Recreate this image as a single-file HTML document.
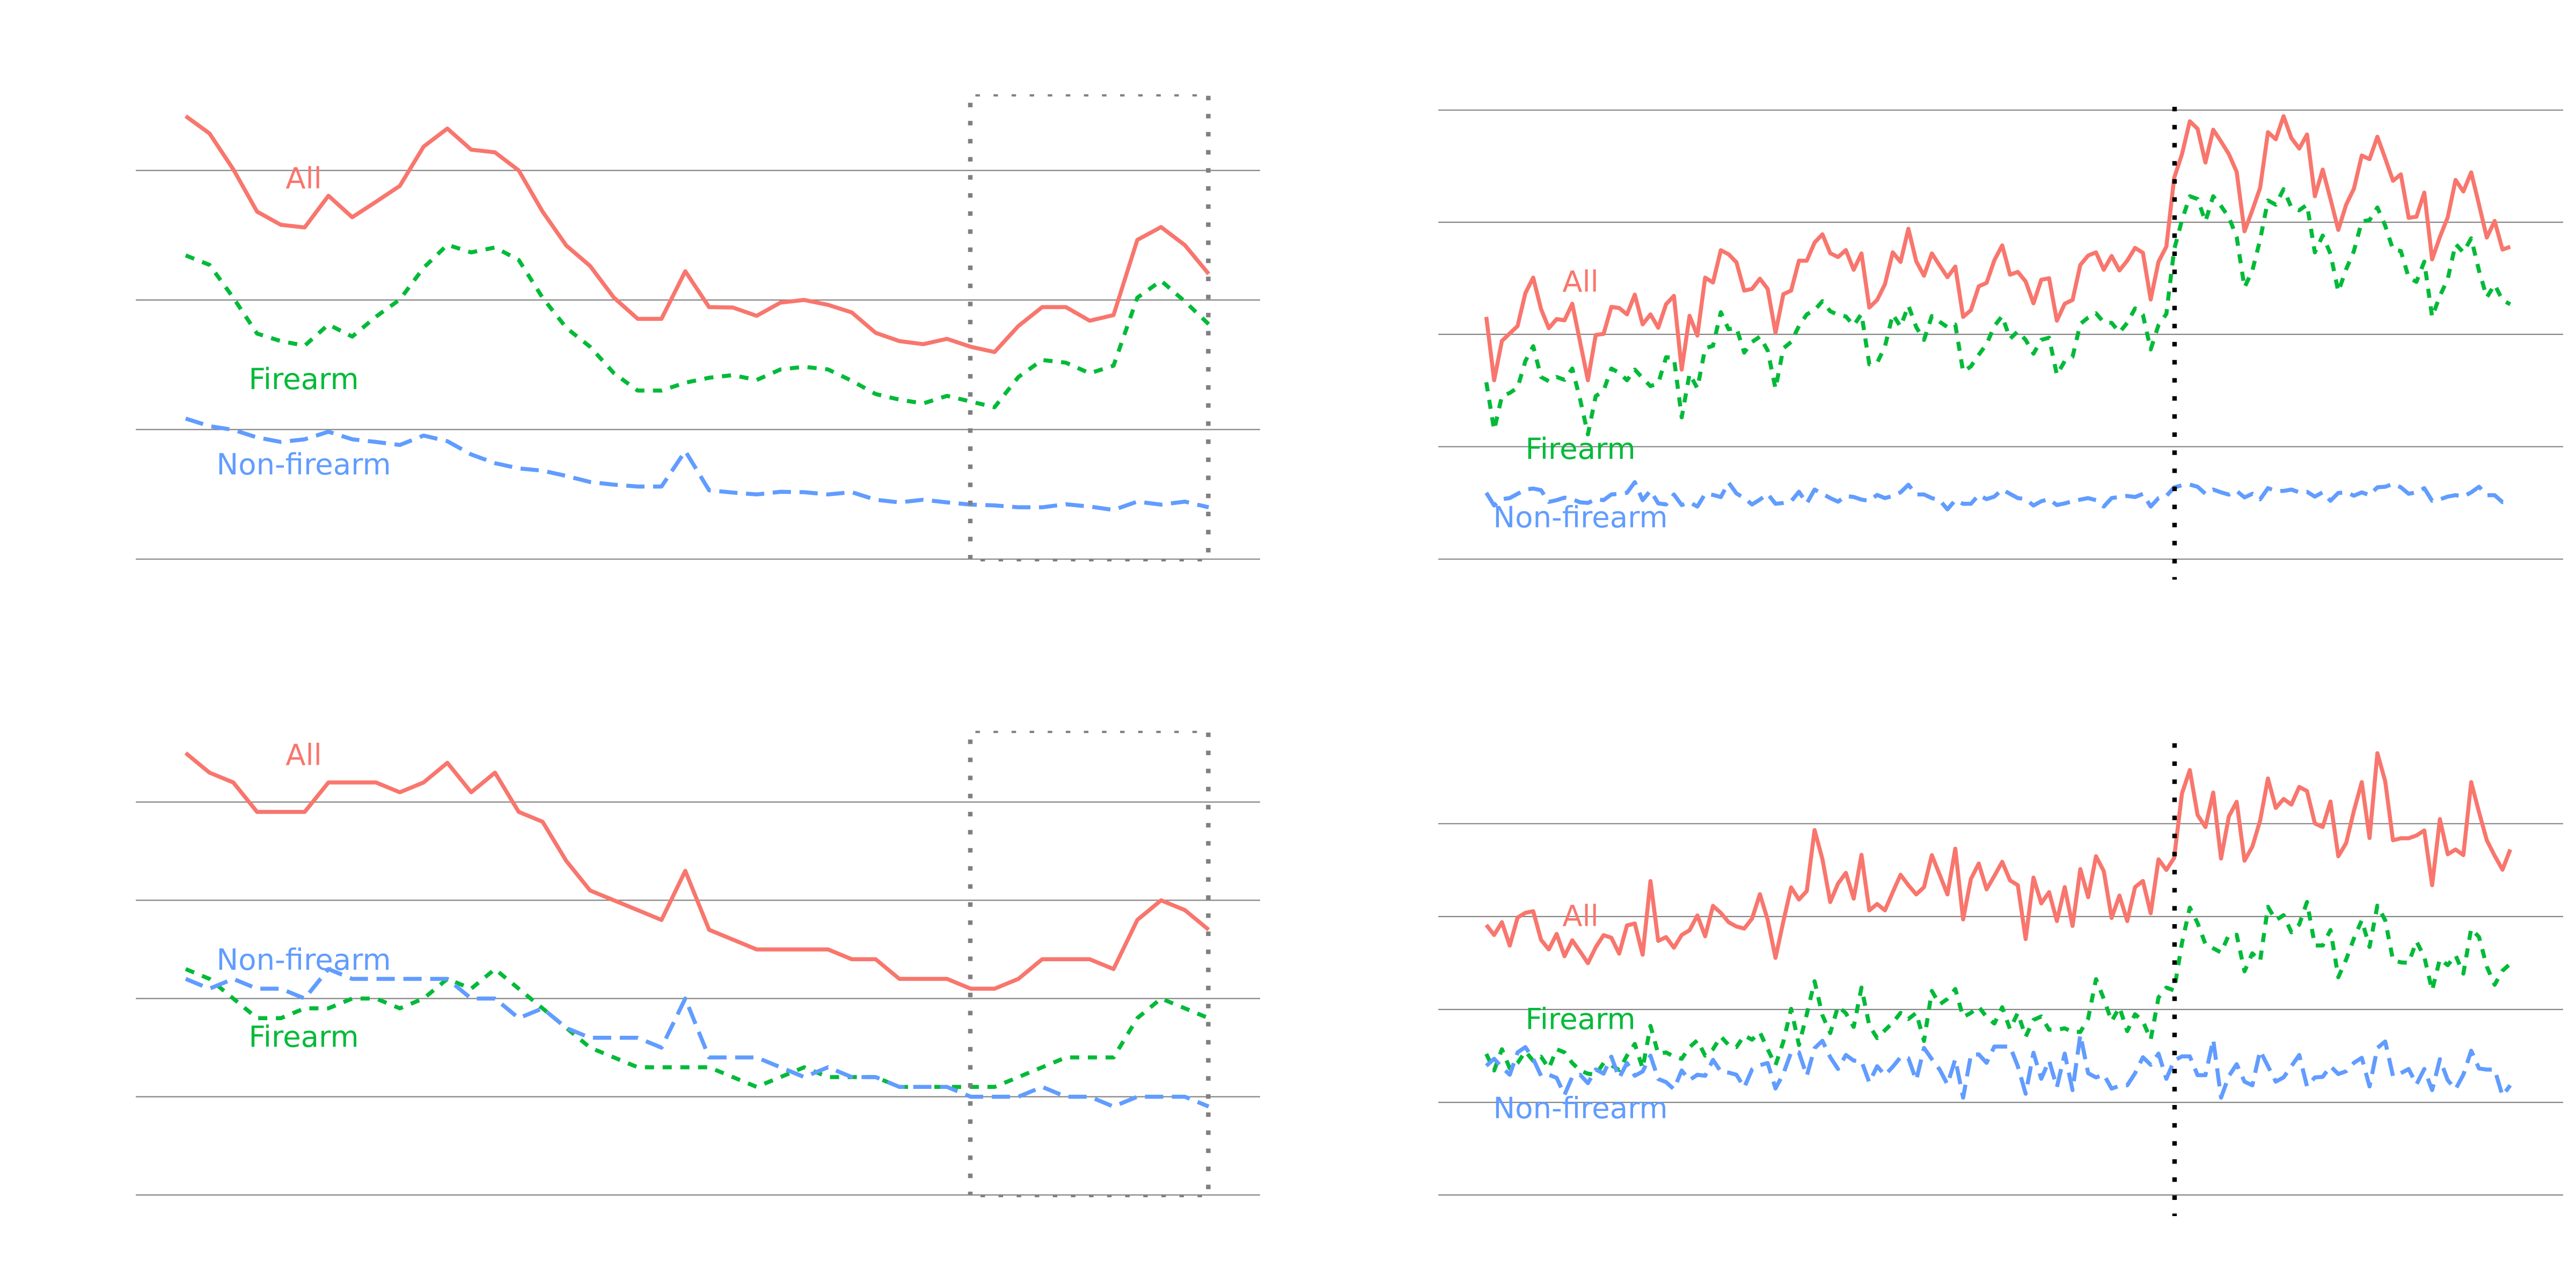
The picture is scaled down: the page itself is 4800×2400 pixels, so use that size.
<!DOCTYPE html>
<html>
<head>
<meta charset="utf-8">
<style>
html,body{margin:0;padding:0;background:#fff;}
svg{display:block;}
text{font-family:"DejaVu Sans","Liberation Sans",sans-serif;font-size:54.5px;text-anchor:middle;}
</style>
</head>
<body>
<svg xmlns="http://www.w3.org/2000/svg" width="4800" height="2400" viewBox="0 0 4800 2400">
<rect x="0" y="0" width="4800" height="2400" fill="#ffffff"/>

<!-- gridlines -->
<g stroke="#858585" stroke-width="2.2" fill="none">
  <line x1="253" y1="317.6" x2="2348" y2="317.6"/>
  <line x1="253" y1="559" x2="2348" y2="559"/>
  <line x1="253" y1="800.4" x2="2348" y2="800.4"/>
  <line x1="253" y1="1041.8" x2="2348" y2="1041.8"/>

  <line x1="253" y1="1494.5" x2="2348" y2="1494.5"/>
  <line x1="253" y1="1677.5" x2="2348" y2="1677.5"/>
  <line x1="253" y1="1860.6" x2="2348" y2="1860.6"/>
  <line x1="253" y1="2043.6" x2="2348" y2="2043.6"/>
  <line x1="253" y1="2226.6" x2="2348" y2="2226.6"/>

  <line x1="2680" y1="205.2" x2="4776" y2="205.2"/>
  <line x1="2680" y1="414.1" x2="4776" y2="414.1"/>
  <line x1="2680" y1="623" x2="4776" y2="623"/>
  <line x1="2680" y1="832.3" x2="4776" y2="832.3"/>
  <line x1="2680" y1="1041.8" x2="4776" y2="1041.8"/>

  <line x1="2680" y1="1534.8" x2="4776" y2="1534.8"/>
  <line x1="2680" y1="1707.9" x2="4776" y2="1707.9"/>
  <line x1="2680" y1="1881" x2="4776" y2="1881"/>
  <line x1="2680" y1="2054.1" x2="4776" y2="2054.1"/>
  <line x1="2680" y1="2226.6" x2="4776" y2="2226.6"/>
</g>

<g fill="none" stroke-linejoin="round" stroke-linecap="butt" stroke-width="7.5">
<!-- TOP LEFT -->
<polyline stroke="#F8766D" points="346,216.3 390.3,248.6 434.7,315.5 479,394.3 523.3,418.9 567.7,423.8 612,364.7 656.3,404.8 700.6,376 745,346.4 789.3,273.2 833.6,239.5 878,278.9 922.3,283.8 966.6,317.6 1011,394.3 1055.3,457.6 1099.6,495.6 1144,554.7 1188.3,594.1 1232.6,594.1 1276.9,505.5 1321.3,572.3 1365.6,573 1409.9,588.5 1454.3,563.9 1498.6,558.9 1542.9,568.1 1587.2,582.2 1631.6,620.2 1675.9,635.6 1720.2,641.3 1764.6,631.4 1808.9,646.2 1853.2,656 1897.6,607.5 1941.9,572.3 1986.2,572.3 2030.5,597.6 2074.9,587.1 2119.2,447.1 2163.5,423.1 2207.9,456.9 2252.2,510.4"/>
<polyline stroke="#00BA38" stroke-dasharray="17 16" points="346,475.9 390.3,493.5 434.7,554.7 479,621.6 523.3,635.6 567.7,644.1 612,604.7 656.3,627.2 700.6,590 745,558.2 789.3,499 833.6,456.2 878,470.3 922.3,461.1 966.6,484.4 1011,554.7 1055.3,611 1099.6,646.2 1144,695.5 1188.3,727.8 1232.6,727.8 1276.9,713.1 1321.3,703.9 1365.6,699 1409.9,708.1 1454.3,688.4 1498.6,683.5 1542.9,688.4 1587.2,709.5 1631.6,734.2 1675.9,744.7 1720.2,751.8 1764.6,737.7 1808.9,748.2 1853.2,758.8 1897.6,702.5 1941.9,670.8 1986.2,675.8 2030.5,695.5 2074.9,681.4 2119.2,554.7 2163.5,523.1 2207.9,561.8 2252.2,604"/>
<polyline stroke="#619CFF" stroke-dasharray="34 16" points="346,779.9 390.3,794 434.7,801 479,815.1 523.3,823.5 567.7,818.6 612,804.5 656.3,818.6 700.6,823.5 745,829.2 789.3,811.6 833.6,822.1 878,846.8 922.3,863 966.6,872.8 1011,877 1055.3,886.9 1099.6,898.1 1144,903.1 1188.3,906.6 1232.6,906.6 1276.9,840.4 1321.3,913.6 1365.6,917.8 1409.9,921.3 1454.3,916.4 1498.6,917.1 1542.9,921.3 1587.2,917.1 1631.6,931.2 1675.9,936.1 1720.2,931.2 1764.6,936.1 1808.9,940.3 1853.2,941.7 1897.6,945.3 1941.9,945.3 1986.2,939.6 2030.5,943.9 2074.9,950.2 2119.2,934.7 2163.5,940.3 2207.9,934.7 2252.2,945.3"/>

<!-- BOTTOM LEFT -->
<polyline stroke="#F8766D" points="346,1403.1 390.3,1439.7 434.7,1458 479,1512.9 523.3,1512.9 567.7,1512.9 612,1458 656.3,1458 700.6,1458 745,1476.3 789.3,1458 833.6,1421.4 878,1476.3 922.3,1439.7 966.6,1512.9 1011,1531.2 1055.3,1604.4 1099.6,1659.3 1144,1677.6 1188.3,1695.9 1232.6,1714.2 1276.9,1622.7 1321.3,1732.5 1365.6,1750.8 1409.9,1769.1 1454.3,1769.1 1498.6,1769.1 1542.9,1769.1 1587.2,1787.4 1631.6,1787.4 1675.9,1824 1720.2,1824 1764.6,1824 1808.9,1842.3 1853.2,1842.3 1897.6,1824 1941.9,1787.4 1986.2,1787.4 2030.5,1787.4 2074.9,1805.7 2119.2,1714.2 2163.5,1677.6 2207.9,1695.9 2252.2,1732.5"/>
<polyline stroke="#00BA38" stroke-dasharray="17 16" points="346,1805.7 390.3,1824 434.7,1860.6 479,1897.2 523.3,1897.2 567.7,1878.9 612,1878.9 656.3,1860.6 700.6,1860.6 745,1878.9 789.3,1860.6 833.6,1824 878,1842.3 922.3,1805.7 966.6,1842.3 1011,1878.9 1055.3,1915.5 1099.6,1952.1 1144,1970.4 1188.3,1988.7 1232.6,1988.7 1276.9,1988.7 1321.3,1988.7 1365.6,2007 1409.9,2025.3 1454.3,2007 1498.6,1988.7 1542.9,2007 1587.2,2007 1631.6,2007 1675.9,2025.3 1720.2,2025.3 1764.6,2025.3 1808.9,2025.3 1853.2,2025.3 1897.6,2007 1941.9,1988.7 1986.2,1970.4 2030.5,1970.4 2074.9,1970.4 2119.2,1897.2 2163.5,1860.6 2207.9,1878.9 2252.2,1897.2"/>
<polyline stroke="#619CFF" stroke-dasharray="34 16" points="346,1824 390.3,1842.3 434.7,1824 479,1842.3 523.3,1842.3 567.7,1860.6 612,1805.7 656.3,1824 700.6,1824 745,1824 789.3,1824 833.6,1824 878,1860.6 922.3,1860.6 966.6,1897.2 1011,1878.9 1055.3,1915.5 1099.6,1933.8 1144,1933.8 1188.3,1933.8 1232.6,1952.1 1276.9,1860.6 1321.3,1970.4 1365.6,1970.4 1409.9,1970.4 1454.3,1988.7 1498.6,2007 1542.9,1988.7 1587.2,2007 1631.6,2007 1675.9,2025.3 1720.2,2025.3 1764.6,2025.3 1808.9,2043.6 1853.2,2043.6 1897.6,2043.6 1941.9,2025.3 1986.2,2043.6 2030.5,2043.6 2074.9,2061.9 2119.2,2043.6 2163.5,2043.6 2207.9,2043.6 2252.2,2061.9"/>

<!-- TOP RIGHT -->
<polyline stroke="#F8766D" points="2769.5,590.5 2784.1,708.5 2798.6,635.2 2813.2,621.4 2827.8,607.5 2842.3,546.2 2856.9,517.3 2871.5,575.9 2886,611.5 2900.6,594.5 2915.2,596.9 2929.7,566 2944.3,637.2 2958.8,708.5 2973.4,624.2 2988,622.2 3002.5,571.9 3017.1,573.9 3031.7,585.8 3046.2,549 3060.8,604.4 3075.4,585.8 3089.9,610.7 3104.5,566.8 3119.1,551.3 3133.6,688.7 3148.2,588.5 3162.8,625.3 3177.3,517.3 3191.9,526.4 3206.5,466.3 3221,473.8 3235.6,488.8 3250.1,541.5 3264.7,538.3 3279.3,519.3 3293.8,538.3 3308.4,620.2 3323,548.2 3337.5,541.5 3352.1,485.7 3366.7,485.7 3381.2,452 3395.8,436.6 3410.4,471.8 3424.9,479 3439.5,466 3454.1,502.7 3468.6,472.2 3483.2,573.1 3497.8,558.9 3512.3,529.6 3526.9,470.2 3541.4,488 3556,426.3 3570.6,486.8 3585.1,513.8 3599.7,472.2 3614.3,494.8 3628.8,516.5 3643.4,496.7 3658,590.5 3672.5,577.9 3687.1,533.5 3701.7,527.2 3716.2,484.9 3730.8,457.2 3745.4,511.8 3759.9,506.6 3774.5,524.4 3789.1,565.2 3803.6,521.3 3818.2,518.5 3832.7,597.6 3847.3,566 3861.9,558.9 3876.4,493.6 3891,476.2 3905.6,470.2 3920.1,502.7 3934.7,477 3949.3,503.9 3963.8,485.7 3978.4,461.9 3993,471 4007.5,558.1 4022.1,487.6 4036.7,459.5 4051.2,331.7 4065.8,287.2 4080.4,226 4094.9,240.1 4109.5,302.9 4124,241.7 4138.6,263.7 4153.2,287.2 4167.7,320.2 4182.3,431 4196.9,391.8 4211.4,350 4226,246.4 4240.6,259.5 4255.1,216.6 4269.7,257.4 4284.3,276.8 4298.8,250.6 4313.4,365.7 4328,316 4342.5,370.9 4357.1,428.4 4371.7,381.4 4386.2,351.5 4400.8,289.8 4415.3,296.6 4429.9,254.8 4444.5,295.1 4459,336.9 4473.6,324.9 4488.2,405.9 4502.7,403.8 4517.3,358.9 4531.9,483.3 4546.4,441.5 4561,404.9 4575.6,335.3 4590.1,356.8 4604.7,321.2 4619.3,381.4 4633.8,442.6 4648.4,411.7 4663,465 4677.5,459.8"/>
<polyline stroke="#00BA38" stroke-dasharray="17 16" points="2769.5,712.4 2784.1,801.4 2798.6,738.1 2813.2,732.2 2827.8,722.3 2842.3,672.8 2856.9,645.1 2871.5,702.5 2886,710.4 2900.6,702.5 2915.2,707.7 2929.7,686.7 2944.3,744.1 2958.8,809.4 2973.4,738.1 2988,728.2 3002.5,686.7 3017.1,694.6 3031.7,708.5 3046.2,688.7 3060.8,704.5 3075.4,719.5 3089.9,714.4 3104.5,665.7 3119.1,666.9 3133.6,777.7 3148.2,696.6 3162.8,723.5 3177.3,649.1 3191.9,644.3 3206.5,581.8 3221,613.5 3235.6,610.7 3250.1,657 3264.7,637.2 3279.3,627.3 3293.8,653.1 3308.4,724.3 3323,649.1 3337.5,637.2 3352.1,607.5 3366.7,585.8 3381.2,577.9 3395.8,561.2 3410.4,580 3424.9,586.6 3439.5,589.7 3454.1,606.4 3468.6,585 3483.2,678.8 3497.8,676 3512.3,645.9 3526.9,585.8 3541.4,608.7 3556,569.2 3570.6,609.5 3585.1,633.3 3599.7,588.9 3614.3,599.6 3628.8,609.5 3643.4,604.8 3658,692.6 3672.5,682.7 3687.1,661 3701.7,641.2 3716.2,607.5 3730.8,588.9 3745.4,631.3 3759.9,617.4 3774.5,633.3 3789.1,659 3803.6,633.3 3818.2,629.3 3832.7,698.6 3847.3,672.8 3861.9,664.9 3876.4,603.6 3891,591.7 3905.6,583.8 3920.1,600.8 3934.7,601.6 3949.3,619.4 3963.8,601.6 3978.4,574.7 3993,586.6 4007.5,651.1 4022.1,605.6 4036.7,585 4051.2,465 4065.8,410.1 4080.4,365.7 4094.9,370.9 4109.5,412.7 4124,365.7 4138.6,384 4153.2,404.9 4167.7,441.5 4182.3,535.6 4196.9,504.3 4211.4,446.7 4226,373.5 4240.6,381.4 4255.1,352.6 4269.7,386.6 4284.3,391.8 4298.8,381.4 4313.4,470.3 4328,438.9 4342.5,472.9 4357.1,543.5 4371.7,501.7 4386.2,467.7 4400.8,412.7 4415.3,410.1 4429.9,386.6 4444.5,420.6 4459,465 4473.6,467.7 4488.2,517.3 4502.7,525.2 4517.3,487.5 4531.9,590.6 4546.4,551.3 4561,520 4575.6,454.6 4590.1,470.3 4604.7,444.1 4619.3,504.3 4633.8,554 4648.4,530.4 4663,559.2 4677.5,567"/>
<polyline stroke="#619CFF" stroke-dasharray="34 16" points="2769.5,918.2 2784.1,941.9 2798.6,930.1 2813.2,928.1 2827.8,920.2 2842.3,912.2 2856.9,910.3 2871.5,913.4 2886,935.2 2900.6,932 2915.2,927.3 2929.7,930.1 2944.3,936 2958.8,937.2 2973.4,930.1 2988,932 3002.5,921.4 3017.1,920.2 3031.7,918.2 3046.2,898.4 3060.8,932 3075.4,914.2 3089.9,938 3104.5,940 3119.1,921.4 3133.6,941.1 3148.2,936 3162.8,943.9 3177.3,920.2 3191.9,922.2 3206.5,926.1 3221,899.2 3235.6,919.4 3250.1,928.1 3264.7,940 3279.3,930.9 3293.8,920.2 3308.4,938.8 3323,937.2 3337.5,934 3352.1,916.2 3366.7,938 3381.2,912.2 3395.8,920.2 3410.4,928.1 3424.9,934.8 3439.5,924.1 3454.1,926.1 3468.6,930.9 3483.2,933.2 3497.8,922.2 3512.3,928.1 3526.9,924.1 3541.4,917.4 3556,903.2 3570.6,921.4 3585.1,921.4 3599.7,928.1 3614.3,932 3628.8,949.1 3643.4,932 3658,938.8 3672.5,938.8 3687.1,922.2 3701.7,930.1 3716.2,925.3 3730.8,912.2 3745.4,920.2 3759.9,928.1 3774.5,930.1 3789.1,941.9 3803.6,934 3818.2,930.1 3832.7,941.1 3847.3,938 3861.9,934 3876.4,930.9 3891,928.1 3905.6,932 3920.1,943.9 3934.7,928.1 3949.3,926.1 3963.8,924.1 3978.4,926.1 3993,920.2 4007.5,943.9 4022.1,928.1 4036.7,924.1 4051.2,908.3 4065.8,904.3 4080.4,903 4094.9,907 4109.5,920.1 4124,912.2 4138.6,917.4 4153.2,921.6 4167.7,914.8 4182.3,926.9 4196.9,920.1 4211.4,930.5 4226,909.6 4240.6,914.8 4255.1,914.8 4269.7,912.2 4284.3,917.4 4298.8,916.4 4313.4,925.3 4328,917.4 4342.5,933.1 4357.1,918.5 4371.7,917.4 4386.2,923.7 4400.8,917.4 4415.3,922.7 4429.9,908 4444.5,907 4459,901.7 4473.6,908 4488.2,920.1 4502.7,917.4 4517.3,909.6 4531.9,933.1 4546.4,930.5 4561,925.3 4575.6,922.7 4590.1,925.3 4604.7,917.4 4619.3,907 4633.8,922.7 4648.4,922.7 4663,935.7 4677.5,933.1"/>

<!-- BOTTOM RIGHT -->
<polyline stroke="#F8766D" points="2769.5,1723.6 2784.1,1742.2 2798.6,1718.4 2813.2,1762 2827.8,1709.7 2842.3,1701 2856.9,1697.9 2871.5,1751.3 2886,1769.1 2900.6,1740.2 2915.2,1781.8 2929.7,1752.1 2944.3,1773.1 2958.8,1794.8 2973.4,1765.1 2988,1742.6 3002.5,1747.3 3017.1,1777 3031.7,1724.4 3046.2,1720.8 3060.8,1779 3075.4,1641.7 3089.9,1753.3 3104.5,1746.1 3119.1,1765.9 3133.6,1742.2 3148.2,1733.5 3162.8,1705.8 3177.3,1744.6 3191.9,1688 3206.5,1701 3221,1718.4 3235.6,1726.4 3250.1,1730.3 3264.7,1711.7 3279.3,1666.2 3293.8,1713.7 3308.4,1784.9 3323,1716.9 3337.5,1653.5 3352.1,1676.1 3366.7,1660.3 3381.2,1546.7 3395.8,1600.9 3410.4,1680.8 3424.9,1646.5 3439.5,1626.5 3454.1,1674.5 3468.6,1592.9 3483.2,1696.4 3497.8,1684.4 3512.3,1696.4 3526.9,1662.4 3541.4,1630 3556,1649.4 3570.6,1666.6 3585.1,1653 3599.7,1593.4 3614.3,1630 3628.8,1666.6 3643.4,1581.4 3658,1713.2 3672.5,1637.8 3687.1,1609.1 3701.7,1657.2 3716.2,1632.1 3730.8,1605.9 3745.4,1640.5 3759.9,1649.4 3774.5,1749.8 3789.1,1635.2 3803.6,1683.3 3818.2,1662.4 3832.7,1716.3 3847.3,1653 3861.9,1725.2 3876.4,1619.5 3891,1671.8 3905.6,1595.5 3920.1,1623.2 3934.7,1710.5 3949.3,1668.7 3963.8,1716.3 3978.4,1653 3993,1641.5 4007.5,1701.7 4022.1,1601.2 4036.7,1621 4051.2,1598.6 4065.8,1478.3 4080.4,1434.9 4094.9,1518.6 4109.5,1541.1 4124,1476.8 4138.6,1599.7 4153.2,1521.2 4167.7,1494 4182.3,1603.8 4196.9,1577.7 4211.4,1529.1 4226,1450.6 4240.6,1505.5 4255.1,1488.8 4269.7,1499.2 4284.3,1466.3 4298.8,1474.1 4313.4,1534.3 4328,1541.1 4342.5,1493.5 4357.1,1595.5 4371.7,1570.9 4386.2,1510.8 4400.8,1457.4 4415.3,1561.5 4429.9,1403.5 4444.5,1455.8 4459,1565.7 4473.6,1562 4488.2,1562 4502.7,1556.8 4517.3,1547.4 4531.9,1649.4 4546.4,1526.4 4561,1591.8 4575.6,1582.9 4590.1,1593.4 4604.7,1457.4 4619.3,1513.4 4633.8,1565.7 4648.4,1594.4 4663,1620.6 4677.5,1582.9"/>
<polyline stroke="#00BA38" stroke-dasharray="17 16" points="2769.5,1963.8 2784.1,1994.7 2798.6,1955.1 2813.2,1990.7 2827.8,1980.8 2842.3,1959 2856.9,1976.8 2871.5,1968.9 2886,1990.7 2900.6,1955.1 2915.2,1961 2929.7,1980.8 2944.3,1994.7 2958.8,2000.6 2973.4,2002.6 2988,1980.8 3002.5,1984.8 3017.1,1993.9 3031.7,1967 3046.2,1945.2 3060.8,1990.7 3075.4,1911.6 3089.9,1963.8 3104.5,1961 3119.1,1968.9 3133.6,1972.9 3148.2,1951.1 3162.8,1938.5 3177.3,1967 3191.9,1955.1 3206.5,1931.3 3221,1947.2 3235.6,1951.1 3250.1,1929.4 3264.7,1937.3 3279.3,1923.4 3293.8,1955.1 3308.4,1984.8 3323,1941.2 3337.5,1879.9 3352.1,1947.2 3366.7,1889.8 3381.2,1828.5 3395.8,1891.8 3410.4,1925 3424.9,1875 3439.5,1888 3454.1,1913.5 3468.6,1840.3 3483.2,1910.9 3497.8,1934.4 3512.3,1919.7 3526.9,1905.6 3541.4,1887.3 3556,1898.8 3570.6,1887.3 3585.1,1939.6 3599.7,1846.5 3614.3,1871.6 3628.8,1861.2 3643.4,1842.9 3658,1895.2 3672.5,1887.3 3687.1,1875.8 3701.7,1895.2 3716.2,1907.2 3730.8,1876.9 3745.4,1917.7 3759.9,1887.3 3774.5,1931.8 3789.1,1900.4 3803.6,1894.1 3818.2,1918.7 3832.7,1918.7 3847.3,1916.1 3861.9,1922.9 3876.4,1922.9 3891,1897.8 3905.6,1824.6 3920.1,1861.2 3934.7,1903 3949.3,1876.9 3963.8,1921.3 3978.4,1889.9 3993,1903 4007.5,1937 4022.1,1858.6 4036.7,1840.3 4051.2,1845.5 4065.8,1756.6 4080.4,1691.2 4094.9,1720 4109.5,1759.2 4124,1767 4138.6,1774.9 4153.2,1741.9 4167.7,1741.9 4182.3,1809.9 4196.9,1776.4 4211.4,1790.6 4226,1689.6 4240.6,1714.7 4255.1,1705.3 4269.7,1737.2 4284.3,1722.6 4298.8,1680.7 4313.4,1761.8 4328,1761.8 4342.5,1733 4357.1,1820.9 4371.7,1788 4386.2,1748.7 4400.8,1714.7 4415.3,1764.4 4429.9,1687.5 4444.5,1714.7 4459,1789 4473.6,1793.2 4488.2,1794.2 4502.7,1754 4517.3,1782.7 4531.9,1845.5 4546.4,1786.9 4561,1798.4 4575.6,1780.1 4590.1,1814.1 4604.7,1730.4 4619.3,1746.1 4633.8,1801 4648.4,1835 4663,1808.9 4677.5,1795.8"/>
<polyline stroke="#619CFF" stroke-dasharray="34 16" points="2769.5,1986 2784.1,1972.9 2798.6,1988.7 2813.2,2002.6 2827.8,1961 2842.3,1951.1 2856.9,1972.9 2871.5,2004.6 2886,2002.6 2900.6,2008.5 2915.2,2040.2 2929.7,2006.5 2944.3,2002.6 2958.8,2018.4 2973.4,1992.7 2988,2000.6 3002.5,1968.9 3017.1,2008.5 3031.7,1980.8 3046.2,2004.6 3060.8,1996.6 3075.4,1967 3089.9,2010.5 3104.5,2016.4 3119.1,2029.5 3133.6,1994.7 3148.2,2012.5 3162.8,2002.6 3177.3,2004.6 3191.9,1974.9 3206.5,1996.6 3221,1998.6 3235.6,2002.6 3250.1,2026.3 3264.7,1992.7 3279.3,1984.8 3293.8,1980.8 3308.4,2028.3 3323,2000.6 3337.5,1961 3352.1,1961 3366.7,2004.6 3381.2,1953.1 3395.8,1939.3 3410.4,1970 3424.9,1991.9 3439.5,1965.8 3454.1,1976.2 3468.6,1977.3 3483.2,2017 3497.8,1986.7 3512.3,2003.4 3526.9,1987.7 3541.4,1970 3556,1972 3570.6,2012.8 3585.1,1952.7 3599.7,1973.6 3614.3,1993 3628.8,2020.7 3643.4,1973.6 3658,2045.3 3672.5,1965.8 3687.1,1964.7 3701.7,1980.4 3716.2,1950.1 3730.8,1950.1 3745.4,1950.1 3759.9,1986.7 3774.5,2038 3789.1,1961.6 3803.6,2010.2 3818.2,1976.2 3832.7,2025.9 3847.3,1963.2 3861.9,2031.2 3876.4,1928.1 3891,1999.8 3905.6,2007.6 3920.1,2002.4 3934.7,2028.5 3949.3,2023.3 3963.8,2022.3 3978.4,1999.8 3993,1970 4007.5,1984.1 4022.1,1963.2 4036.7,2010.2 4051.2,1976.2 4065.8,1968.4 4080.4,1968.4 4094.9,2003.4 4109.5,2003.4 4124,1937 4138.6,2045.3 4153.2,2005 4167.7,1983 4182.3,2015.5 4196.9,2022.3 4211.4,1957.9 4226,1986.7 4240.6,2015.5 4255.1,2007.6 4269.7,1986.7 4284.3,1965.8 4298.8,2024.4 4313.4,2007.6 4328,2006.6 4342.5,1986.7 4357.1,2001.3 4371.7,1996.1 4386.2,1980.4 4400.8,1971 4415.3,2024.4 4429.9,1952.7 4444.5,1940.7 4459,2005 4473.6,1999.8 4488.2,1991.9 4502.7,2020.7 4517.3,1991.9 4531.9,2031.2 4546.4,1973.6 4561,2012.8 4575.6,2029.6 4590.1,2002.4 4604.7,1957.9 4619.3,1990.9 4633.8,1993 4648.4,1993 4663,2041.6 4677.5,2022.3"/>
</g>

<!-- gray dotted boxes -->
<g stroke="#7f7f7f" fill="none" stroke-linecap="butt">
  <line x1="1808" y1="191.5" x2="1808" y2="1042" stroke-width="8.4" stroke-dasharray="8.4 25.3"/>
  <line x1="2251.5" y1="178.5" x2="2251.5" y2="1042" stroke-width="8.4" stroke-dasharray="8.4 25.3"/>
  <line x1="1817.5" y1="177.7" x2="2250" y2="177.7" stroke-width="4.2" stroke-dasharray="8.4 25.3"/>
  <line x1="1827" y1="1044" x2="2250" y2="1044" stroke-width="4.2" stroke-dasharray="8.4 25.3"/>

  <line x1="1808" y1="1378" x2="1808" y2="2226" stroke-width="8.4" stroke-dasharray="8.4 25.3"/>
  <line x1="2251.5" y1="1365" x2="2251.5" y2="2226" stroke-width="8.4" stroke-dasharray="8.4 25.3"/>
  <line x1="1817.5" y1="1363.8" x2="2250" y2="1363.8" stroke-width="4.2" stroke-dasharray="8.4 25.3"/>
  <line x1="1827" y1="2228.8" x2="2250" y2="2228.8" stroke-width="4.2" stroke-dasharray="8.4 25.3"/>
</g>

<!-- black dotted vertical lines -->
<g stroke="#000000" fill="none" stroke-width="8.4" stroke-dasharray="8.4 25.3">
  <line x1="4052" y1="199" x2="4052" y2="1080"/>
  <line x1="4052" y1="1385" x2="4052" y2="2266"/>
</g>

<!-- labels -->
<text x="566" y="351" fill="#F8766D">All</text>
<text x="566" y="725" fill="#00BA38">Firearm</text>
<text x="566" y="884" fill="#619CFF">Non-firearm</text>

<text x="566" y="1425.6" fill="#F8766D">All</text>
<text x="566" y="1807" fill="#619CFF">Non-firearm</text>
<text x="566" y="1950.5" fill="#00BA38">Firearm</text>

<text x="2945" y="543.4" fill="#F8766D">All</text>
<text x="2945" y="855" fill="#00BA38">Firearm</text>
<text x="2945" y="982.3" fill="#619CFF">Non-firearm</text>

<text x="2945" y="1725.6" fill="#F8766D">All</text>
<text x="2945" y="1917.5" fill="#00BA38">Firearm</text>
<text x="2945" y="2083.7" fill="#619CFF">Non-firearm</text>
</svg>
</body>
</html>
